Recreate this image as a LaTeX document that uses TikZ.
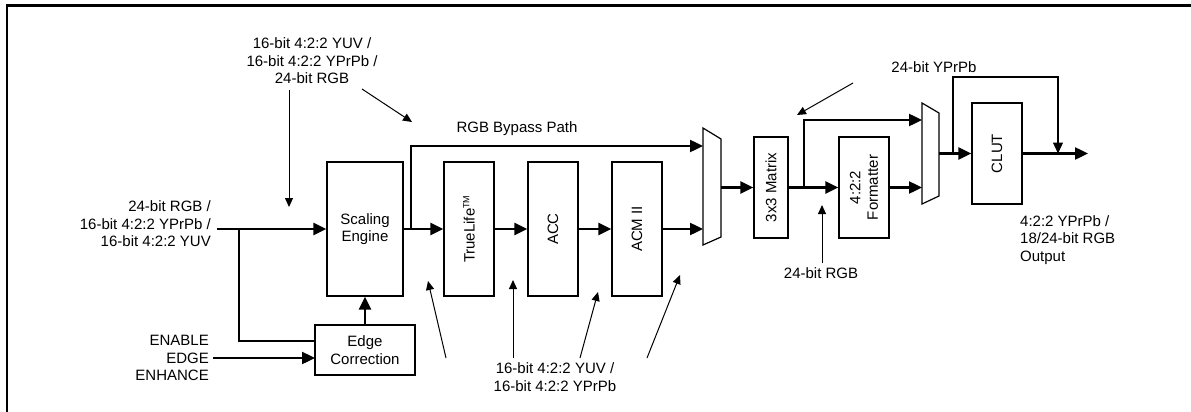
\documentclass[tikz,border=0pt]{standalone}
\usepackage{fontspec}
\setmainfont{Liberation Sans}
\usetikzlibrary{arrows.meta}
\begin{document}
\begin{tikzpicture}[x=1pt,y=-1pt,
  every node/.style={font=\fontsize{15}{17.5}\selectfont, inner sep=0pt},
  box/.style={draw, line width=1.2pt, inner sep=0pt, align=center},
  bus/.style={line width=2.4pt, -{Triangle[length=13pt,width=12pt]}},
  busline/.style={line width=2.4pt},
  thin/.style={line width=1pt, -{Triangle[length=9pt,width=8pt]}},
  muxshape/.style={draw, line width=1.2pt, fill=white}
]
\useasboundingbox (0,0) rectangle (1191,412);
% frame
\draw[line width=2.6pt] (7,412) -- (7,5.5) -- (1191,5.5);

% blocks
\node[box, minimum width=76pt, minimum height=134pt] (se) at (365,229) {Scaling\\Engine};
\node[box, minimum width=100pt, minimum height=50pt] (ec) at (365,350) {Edge\\Correction};
\node[box, minimum width=50pt, minimum height=134pt] (tl) at (469,229) {};
\node[rotate=90] at (tl) {TrueLife\textsuperscript{\fontsize{9}{9}\selectfont TM}};
\node[box, minimum width=50pt, minimum height=134pt] (acc) at (553,229) {};
\node[rotate=90] at (acc) {ACC};
\node[box, minimum width=50pt, minimum height=134pt] (acm) at (637,229) {};
\node[rotate=90] at (acm) {ACM II};
\node[box, minimum width=34pt, minimum height=101pt] (mat) at (771,187.5) {};
\node[rotate=90] at (mat) {3x3 Matrix};
\node[box, minimum width=50pt, minimum height=101pt] (fmt) at (864,187.5) {};
\node[rotate=90, align=center] at (fmt) {4:2:2\\Formatter};
\node[box, minimum width=50pt, minimum height=101pt] (clut) at (997,153.5) {};
\node[rotate=90] at (clut) {CLUT};

% muxes
\draw[muxshape] (703,128) -- (721,139) -- (721,237) -- (703,245) -- cycle;
\coordinate (m1a) at (703,146);
\coordinate (m1b) at (703,229);
\coordinate (m1o) at (721,187.5);
\draw[muxshape] (922,103) -- (939,113) -- (939,196) -- (922,204) -- cycle;
\coordinate (m2a) at (922,120);
\coordinate (m2b) at (922,187.5);
\coordinate (m2o) at (939,153.5);

% coordinates
\coordinate (in) at (217,229);
\coordinate (br1) at (239,229);
\coordinate (br1d) at (239,341);
\coordinate (ecin) at (315,341);
\coordinate (enin) at (213,358);
\coordinate (ecen) at (315,358);
\coordinate (byp) at (411,229);
\coordinate (bypt) at (411,146);
\coordinate (mbr) at (804,187.5);
\coordinate (mbrt) at (804,120);
\coordinate (fb) at (953,153.5);
\coordinate (fbt) at (953,77);
\coordinate (fbr) at (1058,77);
\coordinate (fbe) at (1058,153.5);
\coordinate (out) at (1088,153.5);

% thick connectors
\draw[bus] (in) -- (se.west);
\draw[busline] (br1) -- (br1d) -- (ecin);
\draw[bus] (enin) -- (ecen);
\draw[bus] (ec.north) -- (se.south);
\draw[bus] (se.east) -- (tl.west);
\draw[bus] (byp) -- (bypt) -- (m1a);
\draw[bus] (tl.east) -- (acc.west);
\draw[bus] (acc.east) -- (acm.west);
\draw[bus] (acm.east) -- (m1b);
\draw[bus] (m1o) -- (mat.west);
\draw[bus] (mat.east) -- (fmt.west);
\draw[bus] (mbr) -- (mbrt) -- (m2a);
\draw[bus] (fmt.east) -- (m2b);
\draw[bus] (m2o) -- (clut.west);
\draw[bus] (clut.east) -- (out);
\draw[line width=1.2pt, -{Triangle[length=11pt,width=10pt]}] (fb) -- (fbt) -- (fbr) -- (fbe);

% labels
\node[align=center] (t1) at (312,61) {16-bit 4:2:2 YUV /\\16-bit 4:2:2 YPrPb /\\24-bit RGB};
\node[align=right, anchor=east] (t2) at (211,224) {24-bit RGB /\\16-bit 4:2:2 YPrPb /\\16-bit 4:2:2 YUV};
\node[align=right, anchor=east] (t3) at (209,358) {ENABLE\\EDGE\\ENHANCE};
\node (t4) at (517,129) {RGB Bypass Path};
\node[align=center] (t5) at (555,377) {16-bit 4:2:2 YUV /\\16-bit 4:2:2 YPrPb};
\node (t6) at (934,67) {24-bit YPrPb};
\node (t7) at (821,273) {24-bit RGB};
\node[align=left, anchor=west] (t8) at (1020,240) {4:2:2 YPrPb /\\18/24-bit RGB\\Output};

% thin pointer arrows
\coordinate (p1s) at (289,90);   \coordinate (p1e) at (289,207);
\coordinate (p2s) at (362,89);   \coordinate (p2e) at (412,122);
\coordinate (p3s) at (446,358);  \coordinate (p3e) at (428,281);
\coordinate (p4s) at (513,358);  \coordinate (p4e) at (513,280);
\coordinate (p5s) at (580,358);  \coordinate (p5e) at (598,292);
\coordinate (p6s) at (647,358);  \coordinate (p6e) at (680,275);
\coordinate (p7s) at (853,83);   \coordinate (p7e) at (797,115);
\coordinate (p8s) at (822,263);  \coordinate (p8e) at (822,205);
\foreach \i in {1,...,8} \draw[thin] (p\i s) -- (p\i e);
\end{tikzpicture}
\end{document}
